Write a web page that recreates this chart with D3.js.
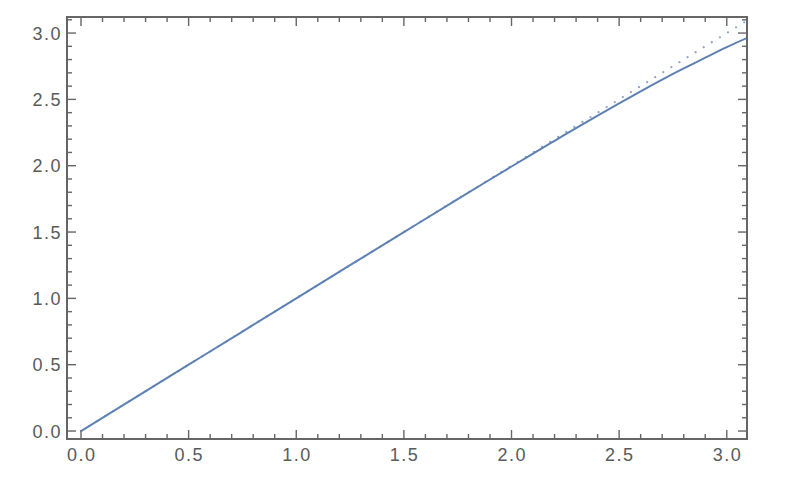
<!DOCTYPE html>
<html>
<head>
<meta charset="utf-8">
<script src="https://cdn.jsdelivr.net/npm/d3@7"></script>
<style>
  body { margin: 0; background: #fff; }
  .tick-label { font-family: "Liberation Sans", Arial, sans-serif; font-size: 18px; fill: #5a5a5a; letter-spacing: 1.5px; }
</style>
</head>
<body>
<div id="chart"></div>
<script>
// values
const xValues = [0, 0.25, 0.5, 0.75, 1.0, 1.25, 1.5, 1.75, 1.9, 2.0, 2.1, 2.2, 2.3, 2.4, 2.5, 2.6, 2.7, 2.8, 2.9, 3.0, 3.1]
const curveValues = [0, 0.25, 0.5, 0.75, 1.0, 1.25, 1.499, 1.748, 1.896, 1.994, 2.091, 2.188, 2.284, 2.378, 2.470, 2.561, 2.649, 2.733, 2.814, 2.894, 2.967]
const refValues = [0, 3.1]            // dotted line y = x
const xTickLabels = ["0.0", "0.5", "1.0", "1.5", "2.0", "2.5", "3.0"]
const yTickLabels = ["0.0", "0.5", "1.0", "1.5", "2.0", "2.5", "3.0"]

const W = 796, H = 482
const frame = {left: 67, right: 747, top: 17, bottom: 439}
const blue = "#5e81b5"
const axisColor = "#666666"

const svg = d3.select("#chart").append("svg")
    .attr("width", W)
    .attr("height", H)

const x = d3.scaleLinear()
    .domain([-0.065, 3.094])
    .range([frame.left, frame.right])
const y = d3.scaleLinear()
    .domain([-0.06, 3.121])
    .range([frame.bottom, frame.top])

svg.append("clipPath").attr("id", "clip")
    .append("rect")
    .attr("x", frame.left).attr("y", frame.top)
    .attr("width", frame.right - frame.left)
    .attr("height", frame.bottom - frame.top)

const plot = svg.append("g").attr("clip-path", "url(#clip)")

// dotted reference line
plot.append("path")
    .datum(refValues)
    .attr("fill", "none")
    .attr("stroke", blue)
    .attr("stroke-opacity", 0.7)
    .attr("stroke-width", 2.3)
    .attr("stroke-linecap", "round")
    .attr("stroke-dasharray", "0,9.5")
    .attr("d", d3.line().x(d => x(d)).y(d => y(d)))

// solid curve
let curve = xValues.map((v, i) => ({x: v, y: curveValues[i]}))
plot.append("path")
    .datum(curve)
    .attr("fill", "none")
    .attr("stroke", blue)
    .attr("stroke-width", 2)
    .attr("d", d3.line().curve(d3.curveNatural).x(d => x(d.x)).y(d => y(d.y)))

// frame ticks, major every 0.5, minor every 0.1
const minorX = d3.range(0, 31).map(i => i / 10).filter(v => x(v) < frame.right - 0.5)
const minorY = d3.range(0, 32).map(i => i / 10).filter(v => y(v) > frame.top + 0.5)
const isMajor = v => Math.abs(v * 2 - Math.round(v * 2)) < 1e-6

const ticks = svg.append("g").attr("stroke", axisColor).attr("stroke-width", 1.4)
minorX.forEach(v => {
    let len = isMajor(v) ? 9 : 5
    ticks.append("line").attr("x1", x(v)).attr("x2", x(v)).attr("y1", frame.bottom).attr("y2", frame.bottom - len)
    ticks.append("line").attr("x1", x(v)).attr("x2", x(v)).attr("y1", frame.top).attr("y2", frame.top + len)
})
minorY.forEach(v => {
    let len = isMajor(v) ? 9 : 5
    ticks.append("line").attr("y1", y(v)).attr("y2", y(v)).attr("x1", frame.left).attr("x2", frame.left + len)
    ticks.append("line").attr("y1", y(v)).attr("y2", y(v)).attr("x1", frame.right).attr("x2", frame.right - len)
})

svg.append("rect")
    .attr("x", frame.left).attr("y", frame.top)
    .attr("width", frame.right - frame.left)
    .attr("height", frame.bottom - frame.top)
    .attr("fill", "none")
    .attr("stroke", axisColor)
    .attr("stroke-width", 2)

// tick labels
svg.append("g").selectAll("text")
    .data(xTickLabels)
    .enter().append("text")
    .attr("class", "tick-label")
    .attr("x", d => x(+d) + 0.75)
    .attr("y", 461)
    .attr("text-anchor", "middle")
    .text(d => d)

svg.append("g").selectAll("text")
    .data(yTickLabels)
    .enter().append("text")
    .attr("class", "tick-label")
    .attr("x", 62)
    .attr("y", d => y(+d) + 6.5)
    .attr("text-anchor", "end")
    .text(d => d)
</script>
</body>
</html>
